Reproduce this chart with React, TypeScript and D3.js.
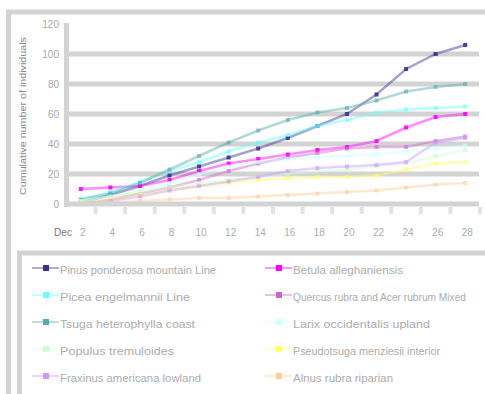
import React from "react";
import * as d3 from "d3";

const categories = ["2", "4", "6", "8", "10", "12", "14", "16", "18", "20", "22", "24", "26", "28"];
const yTicks = [0, 20, 40, 60, 80, 100, 120];

const seriesNames = [
  "Pinus ponderosa mountain Line",
  "Betula alleghaniensis",
  "Picea engelmannii Line",
  "Quercus rubra and Acer rubrum Mixed",
  "Tsuga heterophylla coast",
  "Larix occidentalis upland",
  "Populus tremuloides",
  "Pseudotsuga menziesii interior",
  "Fraxinus americana lowland",
  "Alnus rubra riparian",
];
const seriesColors = [
  "#333399", "#FF00FF", "#66FFFF", "#CC66CC", "#55AAAA",
  "#CCFFFF", "#CCFFCC", "#FFFF66", "#CC99FF", "#FFCC99",
];
const legendTextWidths = [156, 110, 130, 173, 135, 137, 114, 147, 141, 100];

const navyValues = [1, 6, 12, 19, 25, 31, 37, 44, 52, 60, 73, 90, 100, 106];
const magentaValues = [10, 11, 12, 16, 22, 27, 30, 33, 36, 38, 42, 51, 58, 60];
const cyanValues = [3, 8, 15, 22, 28, 35, 41, 46, 52, 56, 61, 63, 64, 65];
const orchidValues = [0, 3, 7, 11, 16, 22, 27, 31, 34, 37, 38, 38, 42, 45];
const tealValues = [3, 7, 14, 23, 32, 41, 49, 56, 61, 64, 69, 75, 78, 80];
const paleCyanValues = [2, 5, 9, 14, 20, 25, 28, 30, 31, 32, 33, 35, 37, 39];
const greenValues = [2, 5, 8, 11, 14, 16, 18, 20, 22, 23, 25, 27, 32, 36];
const yellowValues = [1, 3, 6, 9, 12, 14, 16, 17, 18, 18, 19, 23, 27, 28];
const lavenderValues = [0, 2, 5, 9, 12, 15, 18, 22, 24, 25, 26, 28, 41, 44];
const peachValues = [0, 1, 2, 3, 4, 4, 5, 6, 7, 8, 9, 11, 13, 14];

const allSeries = [
  navyValues, magentaValues, cyanValues, orchidValues, tealValues,
  paleCyanValues, greenValues, yellowValues, lavenderValues, peachValues,
];

const FONT = "'Liberation Sans', Arial, sans-serif";

export default function App() {
  const W = 485;
  const H = 394;
  const x = d3.scaleBand<string>().domain(categories).range([66, 480]).padding(0);
  const y = d3.scaleLinear().domain([0, 120]).range([204, 24]);
  const cx = (i: number) => (x(categories[i]) as number) + x.bandwidth() / 2;
  const line = d3
    .line<number>()
    .x((_, i) => cx(i))
    .y((d) => y(d));

  const grid = "#d3d3d3";
  const boundaries = categories.map((c) => (x(c) as number) + x.bandwidth());

  return (
    <svg
      width={W}
      height={H}
      style={{ position: "absolute", left: 0, top: 0, background: "#fff" }}
      fontFamily={FONT}
    >
      <rect x={0} y={0} width={W} height={H} fill="#fff" />
      {/* chart frame */}
      <rect x={8.5} y={12} width={W + 20} height={H + 20} fill="none" stroke={grid} strokeWidth={5} />

      {/* gridlines */}
      {yTicks
        .filter((t) => t > 0 && t < 120)
        .map((t) => (
          <line key={t} x1={66} x2={479} y1={y(t)} y2={y(t)} stroke={grid} strokeWidth={5} />
        ))}

      {/* series */}
      {allSeries.map((vals, si) => (
        <g key={si}>
          <path d={line(vals) || ""} fill="none" stroke={seriesColors[si]} strokeWidth={2.5} strokeOpacity={0.45} />
          {vals.map((v, i) => (
            <rect
              key={i}
              x={cx(i) - 2}
              y={y(v) - 2}
              width={4}
              height={4}
              fill={seriesColors[si]}
              fillOpacity={si < 2 ? 0.9 : 0.6}
            />
          ))}
        </g>
      ))}

      {/* axes */}
      <line x1={66.5} x2={66.5} y1={23} y2={207} stroke={grid} strokeWidth={5} />
      <line x1={64} x2={479} y1={y(0)} y2={y(0)} stroke={grid} strokeWidth={5} />
      {boundaries.map((b, i) => (
        <line key={i} x1={b} x2={b} y1={207} y2={214} stroke="#e2e2e2" strokeWidth={4} />
      ))}

      {/* y tick labels */}
      {yTicks.map((t) => (
        <text key={t} x={59} y={y(t)} dy="0.35em" textAnchor="end" fontSize={10} fill="#a8a8a8">
          {t}
        </text>
      ))}

      {/* y axis title */}
      <text
        transform={`translate(23,116) rotate(-90)`}
        textAnchor="middle"
        dy="0.35em"
        fontSize={9}
        fill="#8a8a8a"
        textLength={158}
        lengthAdjust="spacingAndGlyphs"
      >
        Cumulative number of individuals
      </text>

      {/* x labels */}
      <text x={63} y={232} dy="0.35em" textAnchor="middle" fontSize={10} fill="#7a7a7a">
        Dec
      </text>
      {categories.map((c, i) => (
        <text key={c} x={cx(i) + 2} y={232} dy="0.35em" textAnchor="middle" fontSize={10} fill="#acacac">
          {c}
        </text>
      ))}

      {/* legend */}
      <rect x={19.5} y={253} width={W} height={H} fill="none" stroke={grid} strokeWidth={5} />
      {seriesNames.map((name, i) => {
        const col = i % 2;
        const row = Math.floor(i / 2);
        const lx = col === 0 ? 32 : 265;
        const ly = 268 + row * 27;
        return (
          <g key={name}>
            <line x1={lx} x2={lx + 27} y1={ly} y2={ly} stroke={seriesColors[i]} strokeWidth={2} strokeOpacity={0.4} />
            <rect x={lx + 11} y={ly - 3} width={6} height={6} fill={seriesColors[i]} />
            <text
              x={lx + 28}
              y={ly + 2}
              dy="0.35em"
              fontSize={10}
              fill="#acacac"
              textLength={legendTextWidths[i]}
              lengthAdjust="spacingAndGlyphs"
            >
              {name}
            </text>
          </g>
        );
      })}
    </svg>
  );
}
